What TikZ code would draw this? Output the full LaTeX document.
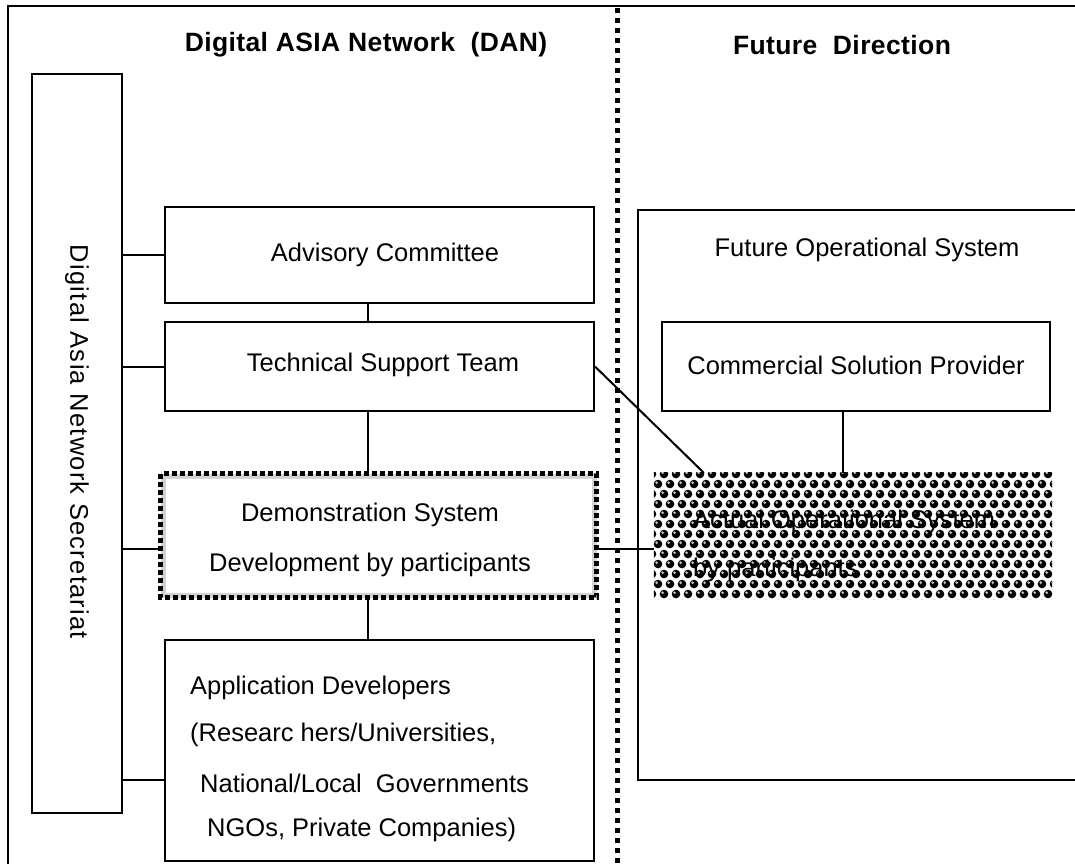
\documentclass[tikz,border=0pt]{standalone}
\usepackage{fontspec}
\setmainfont{Liberation Sans}
\usetikzlibrary{calc}
\tikzset{
  box/.style={draw=black, line width=2pt, fill=white, inner sep=0pt},
  conn/.style={draw=black, line width=2pt},
  txt/.style={inner sep=0pt, font=\fontsize{25.5}{30}\selectfont},
  ttl/.style={inner sep=0pt, font=\fontsize{26.5}{30}\selectfont\bfseries\addfontfeature{LetterSpace=1.5}},
  frame/.style={draw=black, line width=2.5pt},
  divider/.style={draw=black, line width=5pt, dash pattern=on 5pt off 5pt},
}
\begin{document}
\begin{tikzpicture}[x=1pt, y=-1pt]
\useasboundingbox (0,0) rectangle (1075,863);
% outer frame
\draw[frame] (8,870) -- (8,6) -- (1080,6);
% divider
\draw[divider] (617,8) -- (617,870);
% titles
\node[ttl] (t1) at (366,45) {Digital ASIA Network\ \ (DAN)};
\node[ttl] (t2) at (842,45) {Future\ \ Direction};
% left column boxes
\node[box, minimum width=90pt, minimum height=739pt] (sec) at (77,443.5) {};
\node[txt, rotate=-90, font=\fontsize{25.5}{30}\selectfont\addfontfeature{LetterSpace=5}] (sect) at (77,442) {Digital Asia Network Secretariat};
\node[box, minimum width=429pt, minimum height=96pt] (adv) at (379.5,255) {};
\node[txt] (advt) at (385,255) {Advisory Committee};
\node[box, minimum width=429pt, minimum height=89pt] (tst) at (379.5,366.5) {};
\node[txt] (tstt) at (383,365) {Technical Support Team};
\node[box, minimum width=429pt, minimum height=221pt] (app) at (379.5,750.5) {};
\node[txt, anchor=west] (app1) at (190,688) {Application Developers};
\node[txt, anchor=west] (app2) at (190,735) {(Researc hers/Universities,};
\node[txt, anchor=west] (app3) at (200,783) {National/Local\ \ Governments};
\node[txt, anchor=west] (app4) at (207,830) {NGOs, Private Companies)};
% demonstration box with checkered border
\node[draw=gray!35, line width=5pt, fill=white, inner sep=0pt, minimum width=431pt, minimum height=119pt] (demo) at (378.5,535.5) {};
\draw[black, line width=5pt, dash pattern=on 5pt off 3pt] (demo.north west) rectangle (demo.south east);
\node[txt] (demo1) at (370,515) {Demonstration System};
\node[txt] (demo2) at (370,565) {Development by participants};
% right column
\node[box, minimum width=452pt, minimum height=570pt] (fos) at (864,495) {};
\node[txt] (fost) at (867,250) {Future Operational System};
\node[box, minimum width=388pt, minimum height=89pt] (csp) at (856,366.5) {};
\node[txt] (cspt) at (856,365) {Commercial Solution Provider};
\node[inner sep=0pt, minimum width=398pt, minimum height=126pt] (aos) at (853,536) {};
\begin{scope}
\clip (aos.north west) rectangle (aos.south east);
\fill[white] (aos.north west) rectangle (aos.south east);
\foreach \j in {0,...,13}{
  \foreach \i in {0,...,34}{
    \pgfmathsetmacro\xx{652+12*\i+6*mod(\j,2)}
    \pgfmathsetmacro\yy{474+10*\j}
    \fill[black] (\xx,\yy) circle (4.3pt);
    \fill[gray!50] (\xx-1.3,\yy-1.3) circle (1.5pt);
  }
}
\end{scope}
\node[txt, anchor=west] (aos1) at (693,522) {Actual Operational System};
\node[txt, anchor=west] (aos2) at (693,570) {by participants};
% connectors
\coordinate (vx) at (368,0);
\coordinate (vx2) at (843,0);
\draw[conn] (sec.east |- adv.west) -- (adv.west);
\draw[conn] (sec.east |- tst.west) -- (tst.west);
\draw[conn] ($(sec.east |- demo.west)+(0,13)$) -- ($(demo.west)+(0,13)$);
\draw[conn] ($(sec.east |- app.west)+(0,29)$) -- ($(app.west)+(0,29)$);
\draw[conn] (vx |- adv.south) -- (vx |- tst.north);
\draw[conn] (vx |- tst.south) -- (vx |- demo.north);
\draw[conn] (vx |- demo.south) -- (vx |- app.north);
\draw[conn] (tst.east) -- ($(aos.north west)+(50,0)$);
\draw[conn] ($(demo.east)+(0,13)$) -- ($(aos.west)+(0,12.5)$);
\draw[conn] (vx2 |- csp.south) -- (vx2 |- aos.north);
\end{tikzpicture}
\end{document}
